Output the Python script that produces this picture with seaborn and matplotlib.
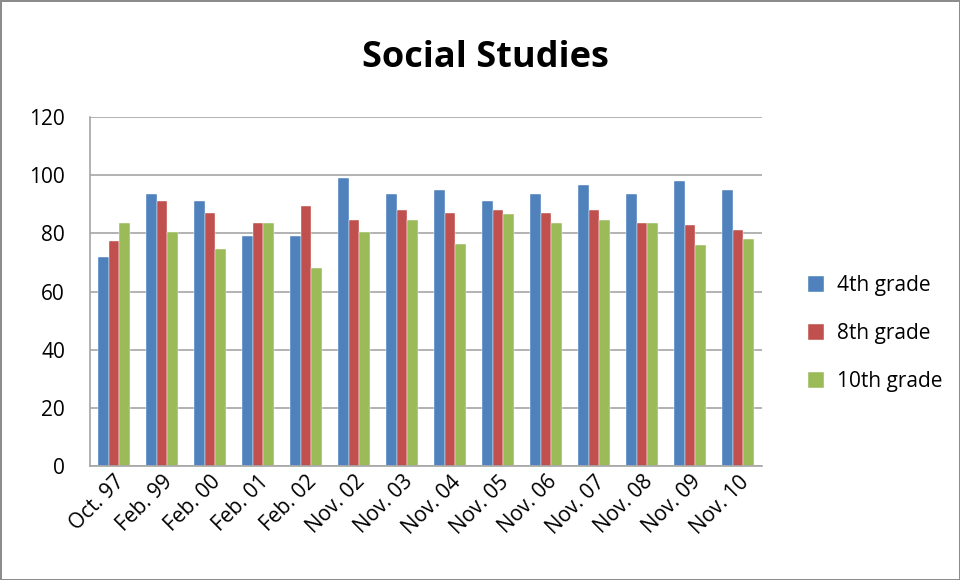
import pandas as pd
import numpy as np
import matplotlib.pyplot as plt
import seaborn as sns

# data
dates = ['Oct. 97', 'Feb. 99', 'Feb. 00', 'Feb. 01', 'Feb. 02', 'Nov. 02', 'Nov. 03',
         'Nov. 04', 'Nov. 05', 'Nov. 06', 'Nov. 07', 'Nov. 08', 'Nov. 09', 'Nov. 10']
grade4 = [72, 93.5, 91, 79, 79, 99, 93.5, 95, 91, 93.5, 96.5, 93.5, 98, 95]
grade8 = [77.5, 91, 87, 83.5, 89.5, 84.5, 88, 87, 88, 87, 88, 83.5, 83, 81]
grade10 = [83.5, 80.5, 74.5, 83.5, 68, 80.5, 84.5, 76.5, 86.5, 83.5, 84.5, 83.5, 76, 78]
series = ['4th grade', '8th grade', '10th grade']
colors = ['#4F81BD', '#C0504D', '#9BBB59']

df = pd.DataFrame({'Date': dates, '4th grade': grade4, '8th grade': grade8, '10th grade': grade10})
long = df.melt(id_vars='Date', var_name='Grade', value_name='Score')

sns.set_style('white')
plt.rcParams['font.family'] = ['Open Sans', 'DejaVu Sans']
plt.rcParams['text.color'] = 'black'
plt.rcParams['xtick.color'] = 'black'
plt.rcParams['ytick.color'] = 'black'

fig = plt.figure(figsize=(9.6, 5.8), dpi=100)
fig.patch.set_edgecolor('#8C8C8C')
fig.patch.set_linewidth(2)
ax = fig.add_axes([90 / 960, 1 - 466 / 580, 672 / 960, 349 / 580])

sns.barplot(data=long, x='Date', y='Score', hue='Grade', hue_order=series,
            palette=colors, width=0.68, saturation=1, ax=ax, legend=True)

ax.set_ylim(0, 120)
ax.set_xlim(-0.5, len(dates) - 0.5)
ax.set_yticks(range(0, 121, 20))
ax.yaxis.grid(True, color='#A6A6A6', linewidth=1.2)
ax.set_axisbelow(True)
ax.set_xlabel('')
ax.set_ylabel('')
for s in ['top', 'right']:
    ax.spines[s].set_visible(False)
for s in ['left', 'bottom']:
    ax.spines[s].set_color('#A6A6A6')
    ax.spines[s].set_linewidth(1.2)
ax.tick_params(axis='y', labelsize=15, pad=18, length=0)
ax.tick_params(axis='x', labelsize=15, length=0, pad=4)
plt.setp(ax.get_xticklabels(), rotation=45, ha='right', rotation_mode='anchor')

for bar in ax.patches:
    bar.set_edgecolor('#FFFFFF')
    bar.set_linewidth(0.3)

ax.legend(loc='center left', bbox_to_anchor=(1.04, 0.38), frameon=False, fontsize=15,
          labelspacing=1.3, handlelength=0.8, handleheight=0.8, handletextpad=0.6)

fig.text(485 / 960, 1 - 58 / 580, 'Social Studies', ha='center', va='center',
         fontsize=26, fontweight='bold')

fig.savefig('out.png', dpi=100)
